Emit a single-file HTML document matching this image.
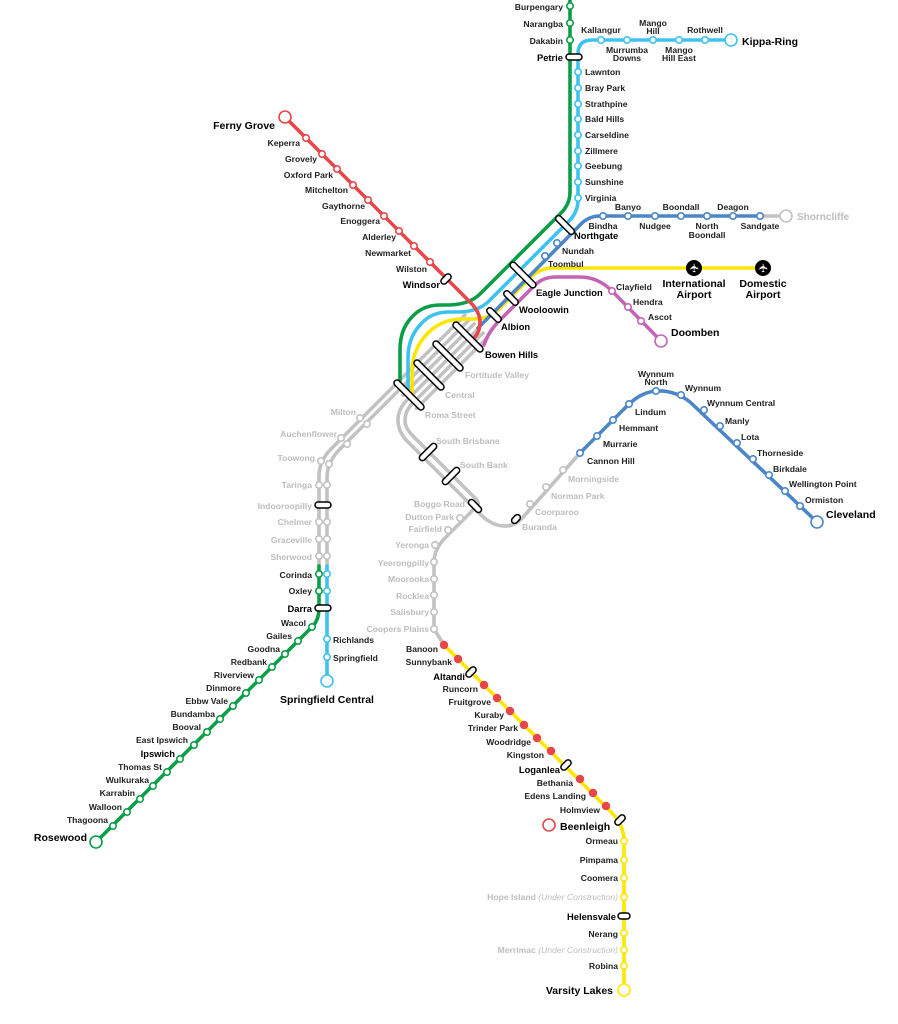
<!DOCTYPE html>
<html><head><meta charset="utf-8"><style>
html,body{margin:0;padding:0;background:#fff;}
svg{display:block;font-family:"Liberation Sans",Arial,sans-serif;font-weight:bold;}
.l{fill:none;stroke-linecap:round;stroke-linejoin:round;}
.t{font-size:8.6px;fill:#222;}
.g{font-size:8.6px;fill:#bdbdbd;}
.b{font-size:9.4px;fill:#000;}
.B{font-size:10.5px;fill:#000;}
.e{text-anchor:end;}
.m{text-anchor:middle;}
.s circle{fill:#fff;stroke-width:1.6;}
.tk{fill:#fff;stroke:#000;stroke-width:1.5;}
</style></head><body>
<svg width="898" height="1024" viewBox="0 0 898 1024" xmlns="http://www.w3.org/2000/svg">
<!-- gray bundle -->
<g class="l" stroke="#c2c2c2" stroke-width="3.6">
<path d="M465,315 L394,386 L331,449 Q319,461 319,476 V566"/>
<path d="M469.5,319.5 L398.5,390.5 L340,449 Q327,462 327,478 V566"/>
<path d="M474,324 L403,395"/>
<path d="M478.5,328.5 L407.5,399.5 Q398,409 398,420 Q398,432 408,442 L480,514 Q493,527 507,526 Q517,525 525,515 L580,453"/>
<path d="M483,333 L412,404 Q405,411 405,421 Q405,428 413,436 L476,499 Q480,503 476,507 L446,537 Q434,549 434,562 V629 L444,645"/>
<path d="M487.5,337.5 L416.5,408.5"/>
<path d="M760,216 H786"/>
</g>
<!-- colored lines -->
<g class="l" stroke-width="3.6">
<path stroke="#0a9e48" d="M570,0 V192 Q570,204 561,213 L480,294 Q470,304 450,305 L440,305 Q422,305 411,318 Q400,330 400,350 V382"/>
<path stroke="#3ec3f0" d="M731,40 H592 Q578,40 578,54 V200 Q578,212 569,221 L489,301 Q478,312 458,312 L448,312 Q431,312 420,325 Q408,338 408,358 V388"/>
<path stroke="#ffe600" d="M763,268 H553 Q540,268 531,277 L497,311 Q490,318 475,319 L460,319 Q440,320 427,334 Q412,350 412,372 V394"/>
<path stroke="#4a86c8" d="M760,216 H600 Q589,216 581,224 L478,328"/>
<path stroke="#e8464a" d="M285,117 L470,302 Q480,312 480,322 Q480,332 474,338"/>
<path stroke="#c564b4" d="M661,341 L612,291 Q598,277 580,277 H556 Q543,277 535,285 L500,320 Q488,332 484,345"/>
<path stroke="#0a9e48" d="M319,566 V608 Q319,620 312,627 L96,842"/>
<path stroke="#3ec3f0" d="M327,566 V681"/>
<path stroke="#4a86c8" d="M580,453 L625,408 Q640,392 656,391 Q675,390 690,402 L817,522"/>
<path stroke="#ffe600" d="M444,645 L612,813 Q624,826 624,840 V990"/>
</g>
<!-- stations -->
<g class="s">
<g stroke="#0a9e48"><circle cx="570" cy="6" r="3.2"/><circle cx="570" cy="23" r="3.2"/><circle cx="570" cy="40" r="3.2"/>
<circle cx="319" cy="574" r="3.2"/><circle cx="319" cy="591" r="3.2"/>
<circle cx="312" cy="627" r="3.2"/><circle cx="298" cy="641" r="3.2"/><circle cx="285" cy="654" r="3.2"/><circle cx="272" cy="667" r="3.2"/><circle cx="259" cy="680" r="3.2"/><circle cx="246" cy="693" r="3.2"/><circle cx="233" cy="706" r="3.2"/><circle cx="220" cy="719" r="3.2"/><circle cx="207" cy="732" r="3.2"/><circle cx="194" cy="745" r="3.2"/><circle cx="180" cy="759" r="3.2"/><circle cx="167" cy="772" r="3.2"/><circle cx="153" cy="786" r="3.2"/><circle cx="140" cy="799" r="3.2"/><circle cx="127" cy="812" r="3.2"/><circle cx="113" cy="826" r="3.2"/>
<circle cx="96" cy="842" r="6" stroke-width="3"/></g>
<g stroke="#3ec3f0"><circle cx="601" cy="40" r="3.2"/><circle cx="627" cy="40" r="3.2"/><circle cx="653" cy="40" r="3.2"/><circle cx="679" cy="40" r="3.2"/><circle cx="705" cy="40" r="3.2"/><circle cx="731" cy="40" r="6" stroke-width="3"/>
<circle cx="578" cy="72" r="3.2"/><circle cx="578" cy="88" r="3.2"/><circle cx="578" cy="104" r="3.2"/><circle cx="578" cy="119" r="3.2"/><circle cx="578" cy="135" r="3.2"/><circle cx="578" cy="151" r="3.2"/><circle cx="578" cy="166" r="3.2"/><circle cx="578" cy="182" r="3.2"/><circle cx="578" cy="198" r="3.2"/>
<circle cx="327" cy="574" r="3.2"/><circle cx="327" cy="591" r="3.2"/><circle cx="327" cy="639" r="3.2"/><circle cx="327" cy="657" r="3.2"/><circle cx="327" cy="681" r="6" stroke-width="3"/></g>
<g stroke="#4a86c8"><circle cx="603" cy="216" r="3.2"/><circle cx="628" cy="216" r="3.2"/><circle cx="655" cy="216" r="3.2"/><circle cx="681" cy="216" r="3.2"/><circle cx="707" cy="216" r="3.2"/><circle cx="733" cy="216" r="3.2"/><circle cx="760" cy="216" r="3.2"/>
<circle cx="557" cy="243" r="3.2"/><circle cx="545" cy="256" r="3.2"/>
<circle cx="580" cy="453" r="3.2"/><circle cx="597" cy="436" r="3.2"/><circle cx="613" cy="420" r="3.2"/><circle cx="629" cy="404" r="3.2"/><circle cx="656" cy="391" r="3.2"/><circle cx="681" cy="395" r="3.2"/><circle cx="704" cy="410" r="3.2"/><circle cx="720" cy="426" r="3.2"/><circle cx="737" cy="443" r="3.2"/><circle cx="753" cy="459" r="3.2"/><circle cx="769" cy="475" r="3.2"/><circle cx="785" cy="491" r="3.2"/><circle cx="800" cy="506" r="3.2"/><circle cx="817" cy="522" r="6" stroke-width="3"/></g>
<g stroke="#c2c2c2"><circle cx="786" cy="216" r="6" stroke-width="3"/>
<circle cx="360" cy="418" r="3.2"/><circle cx="367" cy="424" r="3.2"/><circle cx="341" cy="438" r="3.2"/><circle cx="347" cy="444" r="3.2"/><circle cx="321" cy="461" r="3.2"/><circle cx="329" cy="464" r="3.2"/>
<circle cx="319" cy="485" r="3.2"/><circle cx="327" cy="485" r="3.2"/><circle cx="319" cy="522" r="3.2"/><circle cx="327" cy="522" r="3.2"/><circle cx="319" cy="539" r="3.2"/><circle cx="327" cy="539" r="3.2"/><circle cx="319" cy="556" r="3.2"/><circle cx="327" cy="556" r="3.2"/>
<circle cx="460" cy="518" r="3.2"/><circle cx="448" cy="530" r="3.2"/><circle cx="435" cy="545" r="3.2"/><circle cx="434" cy="562" r="3.2"/><circle cx="434" cy="579" r="3.2"/><circle cx="434" cy="595" r="3.2"/><circle cx="434" cy="612" r="3.2"/><circle cx="434" cy="629" r="3.2"/>
<circle cx="530" cy="504" r="3.2"/><circle cx="546" cy="487" r="3.2"/><circle cx="563" cy="470" r="3.2"/></g>
<g stroke="#e8464a"><circle cx="306" cy="138" r="3.2"/><circle cx="322" cy="154" r="3.2"/><circle cx="337" cy="169" r="3.2"/><circle cx="353" cy="185" r="3.2"/><circle cx="368" cy="200" r="3.2"/><circle cx="384" cy="216" r="3.2"/><circle cx="399" cy="231" r="3.2"/><circle cx="414" cy="246" r="3.2"/><circle cx="430" cy="262" r="3.2"/><circle cx="285" cy="117" r="6" stroke-width="3"/>
<circle cx="549" cy="825" r="6" stroke-width="3"/></g>
<g stroke="#c564b4"><circle cx="612" cy="291" r="3.2"/><circle cx="628" cy="307" r="3.2"/><circle cx="641" cy="321" r="3.2"/><circle cx="661" cy="341" r="6" stroke-width="3"/></g>
<g stroke="#ffe600"><circle cx="624" cy="841" r="3.2"/><circle cx="624" cy="860" r="3.2"/><circle cx="624" cy="878" r="3.2"/><circle cx="624" cy="897" r="3.2"/><circle cx="624" cy="933" r="3.2"/><circle cx="624" cy="950" r="3.2"/><circle cx="624" cy="966" r="3.2"/><circle cx="624" cy="990" r="6" stroke-width="3"/></g>
</g>
<g fill="#e8464a"><circle cx="444" cy="645" r="4.2"/><circle cx="458" cy="659" r="4.2"/><circle cx="484" cy="685" r="4.2"/><circle cx="497" cy="698" r="4.2"/><circle cx="510" cy="711" r="4.2"/><circle cx="524" cy="725" r="4.2"/><circle cx="537" cy="738" r="4.2"/><circle cx="551" cy="751" r="4.2"/><circle cx="580" cy="779" r="4.2"/><circle cx="593" cy="793" r="4.2"/><circle cx="606" cy="806" r="4.2"/></g>
<!-- ticks -->
<g class="tk">
<rect x="566" y="54" width="16" height="6" rx="3"/>
<rect x="315" y="502" width="16" height="6" rx="3"/>
<rect x="315" y="605" width="16" height="6" rx="3"/>
<rect x="618" y="913" width="12" height="6" rx="3"/>
<rect x="-12" y="-3" width="24" height="6" rx="3" transform="translate(565,225) rotate(45)"/>
<rect x="-17" y="-3" width="34" height="6" rx="3" transform="translate(523,275) rotate(45)"/>
<rect x="-9" y="-3" width="18" height="6" rx="3" transform="translate(511,298) rotate(45)"/>
<rect x="-9" y="-3" width="18" height="6" rx="3" transform="translate(494,315) rotate(45)"/>
<rect x="-6" y="-3" width="12" height="6" rx="3" transform="translate(446,279) rotate(-45)"/>
<rect x="-20" y="-3" width="40" height="6" rx="3" transform="translate(468,337) rotate(45)"/>
<rect x="-20" y="-3" width="40" height="6" rx="3" transform="translate(448,356) rotate(45)"/>
<rect x="-20" y="-3" width="40" height="6" rx="3" transform="translate(429,375) rotate(45)"/>
<rect x="-20" y="-3" width="40" height="6" rx="3" transform="translate(409,395) rotate(45)"/>
<rect x="-11" y="-3" width="22" height="6" rx="3" transform="translate(428,452) rotate(-45)"/>
<rect x="-11" y="-3" width="22" height="6" rx="3" transform="translate(451,476) rotate(-45)"/>
<rect x="-8" y="-3" width="16" height="6" rx="3" transform="translate(475,506) rotate(45)"/>
<rect x="-5" y="-3" width="10" height="6" rx="3" transform="translate(516,519) rotate(-45)"/>
<rect x="-6" y="-3" width="12" height="6" rx="3" transform="translate(471,672) rotate(-45)"/>
<rect x="-6" y="-3" width="12" height="6" rx="3" transform="translate(566,765) rotate(-45)"/>
<rect x="-6" y="-3" width="12" height="6" rx="3" transform="translate(620,820) rotate(-45)"/>
</g>
<!-- airports -->
<circle cx="694" cy="268" r="8" fill="#000"/><text x="694" y="272.5" class="m" style="font-size:12px;fill:#fff;font-family:'DejaVu Sans',sans-serif" transform="rotate(-90 694 268)">✈</text>
<circle cx="763" cy="268" r="8" fill="#000"/><text x="763" y="272.5" class="m" style="font-size:12px;fill:#fff;font-family:'DejaVu Sans',sans-serif" transform="rotate(-90 763 268)">✈</text>
<!-- labels -->
<g class="t">
<text x="563" y="10" class="e">Burpengary</text><text x="563" y="27" class="e">Narangba</text><text x="563" y="44" class="e">Dakabin</text>
<text x="601" y="33" class="m">Kallangur</text><text x="627" y="53" class="m">Murrumba</text><text x="627" y="61" class="m">Downs</text>
<text x="653" y="26" class="m">Mango</text><text x="653" y="34" class="m">Hill</text><text x="679" y="53" class="m">Mango</text><text x="679" y="61" class="m">Hill East</text><text x="705" y="33" class="m">Rothwell</text>
<text x="585" y="75">Lawnton</text><text x="585" y="91">Bray Park</text><text x="585" y="107">Strathpine</text><text x="585" y="122">Bald Hills</text><text x="585" y="138">Carseldine</text><text x="585" y="154">Zillmere</text><text x="585" y="169">Geebung</text><text x="585" y="185">Sunshine</text><text x="585" y="201">Virginia</text>
<text x="603" y="229" class="m">Bindha</text><text x="628" y="210" class="m">Banyo</text><text x="655" y="229" class="m">Nudgee</text><text x="681" y="210" class="m">Boondall</text><text x="707" y="229" class="m">North</text><text x="707" y="238" class="m">Boondall</text><text x="733" y="210" class="m">Deagon</text><text x="760" y="229" class="m">Sandgate</text>
<text x="562" y="254">Nundah</text><text x="548" y="267">Toombul</text>
<text x="616" y="290">Clayfield</text><text x="633" y="305">Hendra</text><text x="648" y="320">Ascot</text>
<text x="300" y="146" class="e">Keperra</text><text x="317" y="162" class="e">Grovely</text><text x="333" y="178" class="e">Oxford Park</text><text x="348" y="193" class="e">Mitchelton</text><text x="365" y="209" class="e">Gaythorne</text><text x="380" y="224" class="e">Enoggera</text><text x="396" y="240" class="e">Alderley</text><text x="411" y="256" class="e">Newmarket</text><text x="427" y="272" class="e">Wilston</text>
<text x="312" y="578" class="e">Corinda</text><text x="312" y="594" class="e">Oxley</text>
<text x="306" y="626" class="e">Wacol</text><text x="292" y="639" class="e">Gailes</text><text x="280" y="652" class="e">Goodna</text><text x="267" y="665" class="e">Redbank</text><text x="254" y="678" class="e">Riverview</text><text x="241" y="691" class="e">Dinmore</text><text x="228" y="704" class="e">Ebbw Vale</text><text x="215" y="717" class="e">Bundamba</text><text x="201" y="730" class="e">Booval</text><text x="188" y="743" class="e">East Ipswich</text><text x="162" y="770" class="e">Thomas St</text><text x="149" y="783" class="e">Wulkuraka</text><text x="135" y="796" class="e">Karrabin</text><text x="122" y="810" class="e">Walloon</text><text x="108" y="823" class="e">Thagoona</text>
<text x="333" y="643">Richlands</text><text x="333" y="661">Springfield</text>
<text x="587" y="464">Cannon Hill</text><text x="603" y="447">Murrarie</text><text x="619" y="431">Hemmant</text><text x="635" y="415">Lindum</text><text x="656" y="377" class="m">Wynnum</text><text x="656" y="385" class="m">North</text><text x="685" y="391">Wynnum</text><text x="707" y="406">Wynnum Central</text><text x="725" y="424">Manly</text><text x="741" y="440">Lota</text><text x="757" y="456">Thorneside</text><text x="773" y="472">Birkdale</text><text x="789" y="487">Wellington Point</text><text x="805" y="503">Ormiston</text>
<text x="438" y="652" class="e">Banoon</text><text x="452" y="665" class="e">Sunnybank</text><text x="478" y="692" class="e">Runcorn</text><text x="491" y="705" class="e">Fruitgrove</text><text x="504" y="718" class="e">Kuraby</text><text x="518" y="731" class="e">Trinder Park</text><text x="531" y="745" class="e">Woodridge</text><text x="544" y="758" class="e">Kingston</text><text x="573" y="786" class="e">Bethania</text><text x="586" y="799" class="e">Edens Landing</text><text x="600" y="813" class="e">Holmview</text>
<text x="618" y="844" class="e">Ormeau</text><text x="618" y="863" class="e">Pimpama</text><text x="618" y="881" class="e">Coomera</text><text x="618" y="937" class="e">Nerang</text><text x="618" y="969" class="e">Robina</text>
</g>
<g class="g">
<text x="797" y="220" style="font-size:10px">Shorncliffe</text>
<text x="465" y="378">Fortitude Valley</text><text x="445" y="398">Central</text><text x="425" y="418">Roma Street</text>
<text x="356" y="415" class="e">Milton</text><text x="337" y="437" class="e">Auchenflower</text><text x="315" y="461" class="e">Toowong</text><text x="312" y="488" class="e">Taringa</text><text x="312" y="509" class="e">Indooroopilly</text><text x="312" y="525" class="e">Chelmer</text><text x="312" y="543" class="e">Graceville</text><text x="312" y="560" class="e">Sherwood</text>
<text x="436" y="444">South Brisbane</text><text x="460" y="468">South Bank</text><text x="465" y="507" class="e">Boggo Road</text><text x="454" y="520" class="e">Dutton Park</text><text x="442" y="532" class="e">Fairfield</text><text x="429" y="548" class="e">Yeronga</text><text x="429" y="566" class="e">Yeerongpilly</text><text x="429" y="582" class="e">Moorooka</text><text x="429" y="599" class="e">Rocklea</text><text x="429" y="615" class="e">Salisbury</text><text x="429" y="632" class="e">Coopers Plains</text>
<text x="522" y="530">Buranda</text><text x="535" y="515">Coorparoo</text><text x="551" y="499">Norman Park</text><text x="568" y="482">Morningside</text>
<text x="618" y="900" class="e">Hope Island <tspan style="font-style:italic;font-weight:normal">(Under Construction)</tspan></text>
<text x="618" y="953" class="e">Merrimac <tspan style="font-style:italic;font-weight:normal">(Under Construction)</tspan></text>
</g>
<g class="b">
<text x="563" y="61" class="e">Petrie</text><text x="574" y="239">Northgate</text><text x="536" y="296">Eagle Junction</text><text x="519" y="313">Wooloowin</text><text x="501" y="330">Albion</text><text x="485" y="358">Bowen Hills</text>
<text x="440" y="288" class="e">Windsor</text><text x="312" y="612" class="e">Darra</text><text x="175" y="757" class="e">Ipswich</text>
<text x="465" y="680" class="e">Altandi</text><text x="560" y="773" class="e">Loganlea</text><text x="616" y="920" class="e">Helensvale</text>
</g>
<g class="B">
<text x="742" y="45">Kippa-Ring</text><text x="275" y="129" class="e">Ferny Grove</text><text x="671" y="336">Doomben</text>
<text x="694" y="287" class="m">International</text><text x="694" y="298" class="m">Airport</text>
<text x="763" y="287" class="m">Domestic</text><text x="763" y="298" class="m">Airport</text>
<text x="826" y="518">Cleveland</text><text x="327" y="703" class="m">Springfield Central</text>
<text x="87" y="841" class="e">Rosewood</text><text x="560" y="830">Beenleigh</text><text x="613" y="994" class="e">Varsity Lakes</text>
</g>
</svg>
</body></html>
